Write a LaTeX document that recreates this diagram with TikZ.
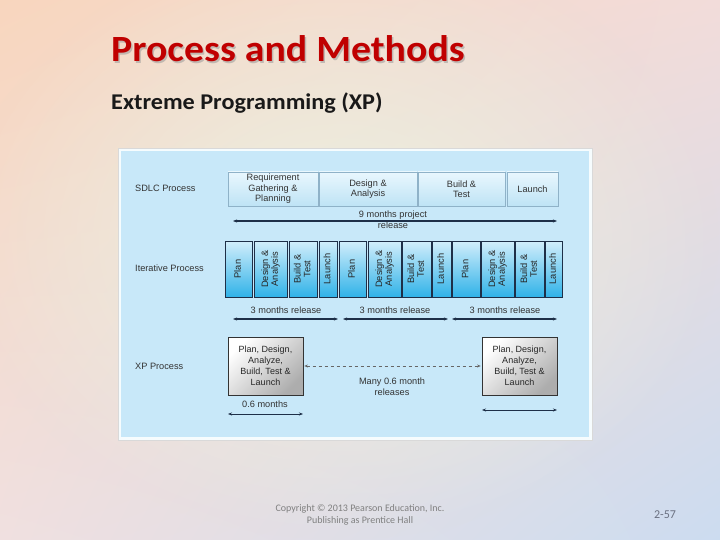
\documentclass[tikz,border=0pt]{standalone}
\usepackage{fontspec}
\setmainfont{Carlito}
\newfontfamily\arialf{Liberation Sans}
\usetikzlibrary{arrows.meta,shadows,shadings,calc,fadings}
\definecolor{titlered}{HTML}{C00000}
\definecolor{panelblue}{HTML}{C8E8F9}
\definecolor{navy}{HTML}{1E2F48}
\definecolor{bgul}{HTML}{F8D6BE}
\definecolor{bgur}{HTML}{F2DCDA}
\definecolor{bgll}{HTML}{F0E0E0}
\definecolor{bglr}{HTML}{CCDCF0}
\definecolor{bgmid}{HTML}{EDF2E0}
\definecolor{sdtop}{HTML}{E9F7FE}
\definecolor{sdbot}{HTML}{BEE3F5}
\definecolor{ittop}{HTML}{D2EEFB}
\definecolor{itbot}{HTML}{30B2E8}
\definecolor{sdedge}{HTML}{8FB2C8}
\definecolor{pggray}{HTML}{6A7080}
\tikzfading[name=softfade, inner color=transparent!0, outer color=transparent!100]
\tikzset{
  dfont/.style={font=\arialf\fontsize{9.2}{10.5}\selectfont},
  lbl/.style={dfont, text=black!80, inner sep=0},
  sdlcbox/.style={draw=sdedge, line width=0.5pt, top color=sdtop, bottom color=sdbot,
     minimum height=34, inner sep=0, align=center, dfont, text=black!80,
     drop shadow={shadow xshift=0.8pt, shadow yshift=-0.8pt, opacity=0.35}},
  itbox/.style={draw=navy, line width=0.6pt, top color=ittop, bottom color=itbot,
     minimum height=56, inner sep=0, font=\arialf\fontsize{9.3}{9.8}\selectfont, text=black!85},
  xpbox/.style={draw=black!80, line width=0.7pt, top color=white, bottom color=black!32, shading angle=45,
     minimum width=75, minimum height=58, inner sep=0, align=center, font=\arialf\fontsize{9}{11}\selectfont, text=black!85,
     drop shadow={shadow xshift=1.2pt, shadow yshift=-1.2pt, opacity=0.4}},
  darr/.style={{Stealth[length=4pt,width=3pt]}-{Stealth[length=4pt,width=3pt]}, line width=1.1pt, draw=navy},
  dasharr/.style={{Stealth[length=3.5pt,width=3pt]}-{Stealth[length=3.5pt,width=3pt]}, line width=0.5pt, draw=black!60, dashed},
}
\newcommand{\rtext}[1]{\rotatebox{90}{\begin{tabular}{@{}c@{}}#1\end{tabular}}}
\begin{document}
\begin{tikzpicture}[x=1pt,y=-1pt]
\useasboundingbox (0,0) rectangle (720,540);
% background
\shade[upper left=bgul, upper right=bgur, lower left=bgll, lower right=bglr] (0,0) rectangle (720,540);
\fill[bgmid, path fading=softfade, opacity=0.95] (340,240) ellipse (380 and 300);
% title
\node[anchor=base west, inner sep=0, xscale=1.076, font=\bfseries\fontsize{37}{40}\selectfont, text=black!40, opacity=0.55] at (112.5,63.5) {Process and Methods};
\node[anchor=base west, inner sep=0, xscale=1.076, font=\bfseries\fontsize{37}{40}\selectfont, text=titlered] (title) at (111,62) {Process and Methods};
\node[anchor=base west, inner sep=0, xscale=1.076, font=\bfseries\fontsize{22.5}{24}\selectfont, text=black!90] (sub) at (111,110) {Extreme Programming (XP)};
% panel
\fill[sdtop!40!white, draw=black!15] (118,148) rectangle (592,440);
\fill[panelblue] (121,151) rectangle (589,437);
% row labels
\node[lbl, anchor=west] (lsdlc) at (135,188) {SDLC Process};
\node[lbl, anchor=west] (lit) at (135,268) {Iterative Process};
\node[lbl, anchor=west] (lxp) at (135,366) {XP Process};
% SDLC boxes
\node[sdlcbox, minimum width=90] (s1) at (273,189) {Requirement\\Gathering \&\\Planning};
\node[sdlcbox, minimum width=98] (s2) at (368,189) {Design \&\\Analysis};
\node[sdlcbox, minimum width=87] (s3) at (461.5,189) {Build \&\\Test};
\node[sdlcbox, minimum width=51] (s4) at (532.5,189) {Launch};
\coordinate (a9l) at (233,221);
\coordinate (a9r) at (557,221);
\draw[darr] (a9l) -- (a9r);
\node[lbl, align=center, font=\arialf\fontsize{9.2}{11}\selectfont] (l9) at (393,219.5) {9 months project\\release};
% iterative boxes
\node[itbox, minimum width=27] (i1) at (239,269) {\rtext{Plan}};
\node[itbox, minimum width=33] (i2) at (271,269) {\rtext{Design \&\\Analysis}};
\node[itbox, minimum width=28] (i3) at (303.5,269) {\rtext{Build \&\\Test}};
\node[itbox, minimum width=18] (i4) at (328.5,269) {\rtext{Launch}};
\node[itbox, minimum width=27] (i5) at (353,269) {\rtext{Plan}};
\node[itbox, minimum width=33] (i6) at (385,269) {\rtext{Design \&\\Analysis}};
\node[itbox, minimum width=29] (i7) at (417,269) {\rtext{Build \&\\Test}};
\node[itbox, minimum width=19] (i8) at (442,269) {\rtext{Launch}};
\node[itbox, minimum width=28] (i9) at (466.5,269) {\rtext{Plan}};
\node[itbox, minimum width=33] (i10) at (498,269) {\rtext{Design \&\\Analysis}};
\node[itbox, minimum width=29] (i11) at (530,269) {\rtext{Build \&\\Test}};
\node[itbox, minimum width=17] (i12) at (554,269) {\rtext{Launch}};
% release arrows
\coordinate (r1l) at (233,319); \coordinate (r1r) at (338,319);
\coordinate (r2l) at (343,319); \coordinate (r2r) at (448,319);
\coordinate (r3l) at (452,319); \coordinate (r3r) at (557,319);
\draw[darr] (r1l) -- (r1r);
\draw[darr] (r2l) -- (r2r);
\draw[darr] (r3l) -- (r3r);
\node[lbl] (t1) at (286,310) {3 months release};
\node[lbl] (t2) at (395,310) {3 months release};
\node[lbl] (t3) at (505,310) {3 months release};
% XP boxes
\node[xpbox] (x1) at (265.5,366) {Plan, Design,\\Analyze,\\Build, Test \&\\Launch};
\node[xpbox] (x2) at (519.5,366) {Plan, Design,\\Analyze,\\Build, Test \&\\Launch};
\draw[dasharr] ($(x1.east)+(1,0)$) -- ($(x2.west)+(-1,0)$);
\node[lbl, align=center, font=\arialf\fontsize{9.2}{11}\selectfont] (many) at (392,386.5) {Many 0.6 month\\releases};
\node[lbl] (t06) at (265,404) {0.6 months};
\coordinate (m1l) at (228,414); \coordinate (m1r) at (303,414);
\coordinate (m2l) at (482,410); \coordinate (m2r) at (557,410);
\draw[darr, line width=0.9pt] (m1l) -- (m1r);
\draw[darr, line width=0.9pt] (m2l) -- (m2r);
% footer
\node[align=center, inner sep=0, font=\fontsize{10}{12}\selectfont, text=black!50] (copy) at (360,515) {Copyright \textcopyright{} 2013 Pearson Education, Inc.\\Publishing as Prentice Hall};
\node[inner sep=0, font=\fontsize{12}{14}\selectfont, text=pggray] (pg) at (665,515) {2-57};
\end{tikzpicture}
\end{document}
